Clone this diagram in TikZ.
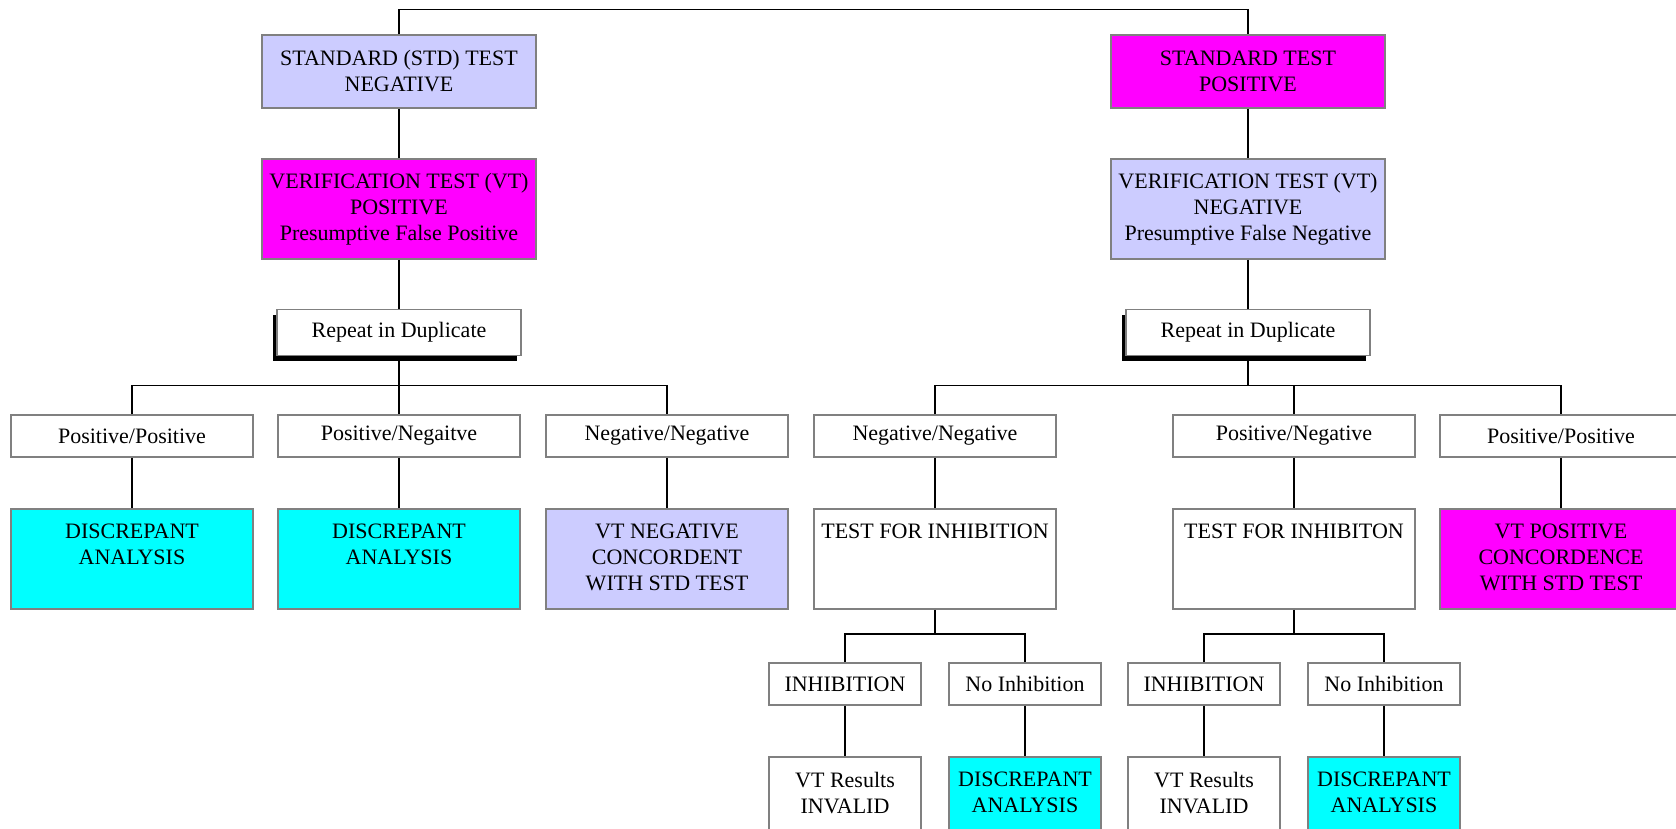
\documentclass[tikz,border=0pt]{standalone}
\usepackage{fontspec}
\setmainfont{Liberation Serif}
\usetikzlibrary{shadows}
\definecolor{lav}{HTML}{CCCCFF}
\definecolor{mag}{HTML}{FF00FF}
\definecolor{cya}{HTML}{00FFFF}
\definecolor{bord}{HTML}{808080}
\begin{document}
\begin{tikzpicture}[x=1pt,y=-1pt,
  every node/.style={font=\fontsize{22}{26}\selectfont},
  box/.style={draw=bord, line width=1.6pt, fill=white, align=center, inner sep=0pt},
  bigbox/.style={box, minimum width=274pt, minimum height=#1},
  smallbox/.style={box, minimum width=242pt, minimum height=42pt},
  tallbox/.style={box, minimum width=242pt, minimum height=100pt},
  tinybox/.style={box, minimum width=152pt, minimum height=42pt},
  repbox/.style={box, minimum width=244pt, minimum height=46pt,
     drop shadow={shadow xshift=-4pt, shadow yshift=-5pt, fill=black, opacity=1}},
  toptext/.style={label={[anchor=north, inner sep=0pt, yshift=-15.5pt, align=center]north:{#1}}},
  conn/.style={draw=black, line width=1.8pt},
]
\useasboundingbox (0,0) rectangle (1676,829);
\clip (0,0) rectangle (1676,829);
\fill[white] (0,0) rectangle (1676,829);

% levels
\coordinate (top) at (0,9.5);
\coordinate (bus) at (0,385.5);
\coordinate (sub) at (0,634);

% top boxes
\node[bigbox=73pt, fill=lav] (stdneg) at (399,71.5) {STANDARD (STD) TEST\\NEGATIVE};
\node[bigbox=73pt, fill=mag] (stdpos) at (1248,71.5) {STANDARD TEST\\POSITIVE};
\node[bigbox=100pt, fill=mag] (vtpos) at (399,209) {VERIFICATION TEST (VT)\\POSITIVE\\Presumptive False Positive};
\node[bigbox=100pt, fill=lav] (vtneg) at (1248,209) {VERIFICATION TEST (VT)\\NEGATIVE\\Presumptive False Negative};

% repeat boxes
\node[repbox] (repL) at (399,332.5) {Repeat in Duplicate};
\node[repbox] (repR) at (1248,332.5) {Repeat in Duplicate};

% row 3
\node[smallbox] (ppL) at (132,436) {Positive/Positive};
\node[smallbox] (pnL) at (399,436) {Positive/Negaitve};
\node[smallbox] (nnL) at (667,436) {Negative/Negative};
\node[smallbox] (nnR) at (935,436) {Negative/Negative};
\node[smallbox] (pnR) at (1294,436) {Positive/Negative};
\node[smallbox] (ppR) at (1561,436) {Positive/Positive};

% row 4
\node[tallbox, fill=cya, toptext={DISCREPANT\\ANALYSIS}] (daL1) at (132,559) {};
\node[tallbox, fill=cya, toptext={DISCREPANT\\ANALYSIS}] (daL2) at (399,559) {};
\node[tallbox, fill=lav, toptext={VT NEGATIVE\\CONCORDENT\\WITH STD TEST}] (vtnc) at (667,559) {};
\node[tallbox, toptext={TEST FOR INHIBITION}] (tfi1) at (935,559) {};
\node[tallbox, toptext={TEST FOR INHIBITON}] (tfi2) at (1294,559) {};
\node[tallbox, fill=mag, toptext={VT POSITIVE\\CONCORDENCE\\WITH STD TEST}] (vtpc) at (1561,559) {};

% row 5
\node[tinybox] (inh1) at (845,684) {INHIBITION};
\node[tinybox] (noi1) at (1025,684) {No Inhibition};
\node[tinybox] (inh2) at (1204,684) {INHIBITION};
\node[tinybox] (noi2) at (1384,684) {No Inhibition};

% row 6
\node[tinybox, minimum height=100pt, toptext={VT Results\\INVALID}] (inv1) at (845,807) {};
\node[tinybox, minimum height=100pt, fill=cya, toptext={DISCREPANT\\ANALYSIS}] (da3) at (1025,807) {};
\node[tinybox, minimum height=100pt, toptext={VT Results\\INVALID}] (inv2) at (1204,807) {};
\node[tinybox, minimum height=100pt, fill=cya, toptext={DISCREPANT\\ANALYSIS}] (da4) at (1384,807) {};

% connectors
\draw[conn] (stdneg.north) -- (stdneg.north |- top) -- (stdpos.north |- top) -- (stdpos.north);
\draw[conn] (stdneg.south) -- (vtpos.north);
\draw[conn] (stdpos.south) -- (vtneg.north);
\draw[conn] (vtpos.south) -- (repL.north);
\draw[conn] (vtneg.south) -- (repR.north);

\draw[conn] (repL.south) -- (pnL.north);
\draw[conn] (ppL.north) -- (ppL.north |- bus) -- (nnL.north |- bus) -- (nnL.north);
\draw[conn] (repR.south) -- (repR.south |- bus);
\draw[conn] (nnR.north) -- (nnR.north |- bus) -- (ppR.north |- bus) -- (ppR.north);
\draw[conn] (pnR.north) -- (pnR.north |- bus);

\draw[conn] (ppL.south) -- (daL1.north);
\draw[conn] (pnL.south) -- (daL2.north);
\draw[conn] (nnL.south) -- (vtnc.north);
\draw[conn] (nnR.south) -- (tfi1.north);
\draw[conn] (pnR.south) -- (tfi2.north);
\draw[conn] (ppR.south) -- (vtpc.north);

\draw[conn] (tfi1.south) -- (tfi1.south |- sub);
\draw[conn] (inh1.north) -- (inh1.north |- sub) -- (noi1.north |- sub) -- (noi1.north);
\draw[conn] (tfi2.south) -- (tfi2.south |- sub);
\draw[conn] (inh2.north) -- (inh2.north |- sub) -- (noi2.north |- sub) -- (noi2.north);

\draw[conn] (inh1.south) -- (inv1.north);
\draw[conn] (noi1.south) -- (da3.north);
\draw[conn] (inh2.south) -- (inv2.north);
\draw[conn] (noi2.south) -- (da4.north);
\end{tikzpicture}
\end{document}
